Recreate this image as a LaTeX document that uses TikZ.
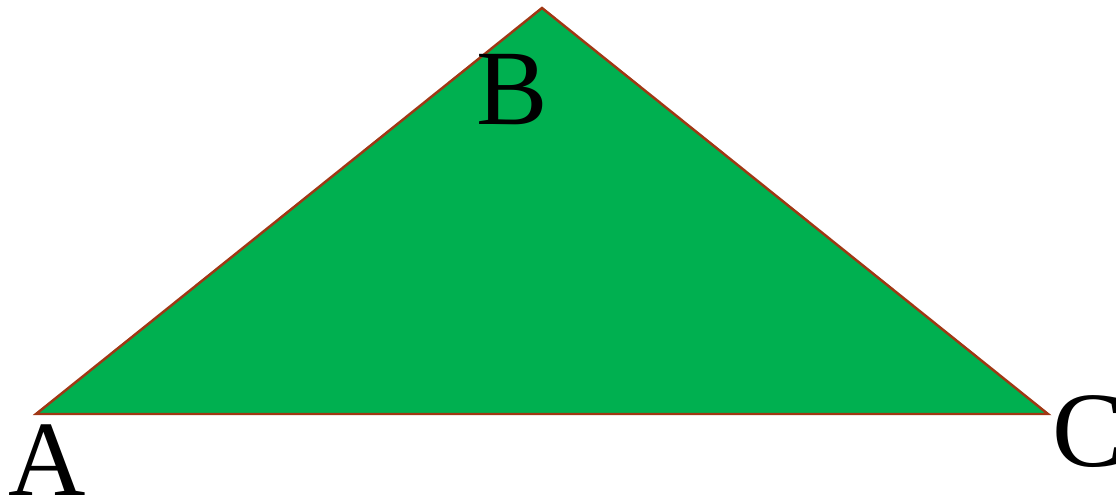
\documentclass[tikz,border=0pt]{standalone}
\usepackage{fontspec}
\setmainfont{Liberation Serif}
\usepackage{tikz}
\definecolor{trifill}{RGB}{0,176,80}
\definecolor{triedge}{RGB}{160,55,20}
\usetikzlibrary{positioning}
\tikzset{
    trishape/.style={draw=triedge, fill=trifill, line width=1.4pt, line join=miter},
    vxlabel/.style={inner sep=0pt, font=\fontsize{61}{61}\selectfont}
}

\begin{document}
\begin{tikzpicture}[x=0.02cm, y=-0.02cm]
  \useasboundingbox (0,0) rectangle (1116,500);
  \coordinate (A) at (36,414);
  \coordinate (B) at (542,8);
  \coordinate (C) at (1048,414);
  \draw[trishape] (A) -- (B) -- (C) -- cycle;
  \node[vxlabel] (la) at (47,460) {A};
  \node[vxlabel] (lb) at (512,90)  {B};
  \node[vxlabel] (lc) at (1088,432) {C};
\end{tikzpicture}
\end{document}
